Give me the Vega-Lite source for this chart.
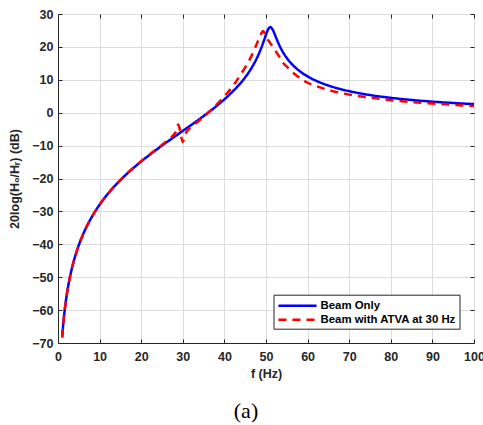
{
  "$schema": "https://vega.github.io/schema/vega-lite/v6.json",
  "width": 416,
  "height": 329,
  "autosize": "none",
  "padding": {"left": 58, "top": 14, "right": 9, "bottom": 82},
  "background": "white",
  "title": {"text": "(a)", "orient": "bottom", "font": "Liberation Serif", "fontSize": 22, "fontWeight": "normal", "color": "black", "offset": 21, "dx": -20},
  "config": {
    "view": {"stroke": "#262626", "strokeWidth": 1},
    "axis": {
      "labelFont": "Liberation Sans", "labelFontWeight": "bold", "labelFontSize": 12.5, "labelColor": "#262626",
      "titleFont": "Liberation Sans", "titleFontWeight": "bold", "titleFontSize": 12.5, "titleColor": "#262626",
      "domainColor": "#262626", "tickColor": "#262626", "gridColor": "#dcdcdc", "gridWidth": 1,
      "tickSize": -4, "labelPadding": 11, "labelFlush": false, "labelOverlap": false
    }
  },
  "data": {"values": [
    {"f": 1, "dB": -68.3, "series": "Beam Only"},
    {"f": 1.25, "dB": -64.42, "series": "Beam Only"},
    {"f": 1.5, "dB": -61.25, "series": "Beam Only"},
    {"f": 1.75, "dB": -58.57, "series": "Beam Only"},
    {"f": 2, "dB": -56.25, "series": "Beam Only"},
    {"f": 2.5, "dB": -52.36, "series": "Beam Only"},
    {"f": 3, "dB": -49.19, "series": "Beam Only"},
    {"f": 3.5, "dB": -46.5, "series": "Beam Only"},
    {"f": 4, "dB": -44.17, "series": "Beam Only"},
    {"f": 5, "dB": -40.26, "series": "Beam Only"},
    {"f": 6, "dB": -37.06, "series": "Beam Only"},
    {"f": 7, "dB": -34.33, "series": "Beam Only"},
    {"f": 8, "dB": -31.96, "series": "Beam Only"},
    {"f": 9, "dB": -29.86, "series": "Beam Only"},
    {"f": 10, "dB": -27.96, "series": "Beam Only"},
    {"f": 12, "dB": -24.64, "series": "Beam Only"},
    {"f": 14, "dB": -21.78, "series": "Beam Only"},
    {"f": 16, "dB": -19.24, "series": "Beam Only"},
    {"f": 18, "dB": -16.94, "series": "Beam Only"},
    {"f": 20, "dB": -14.81, "series": "Beam Only"},
    {"f": 22, "dB": -12.82, "series": "Beam Only"},
    {"f": 24, "dB": -10.92, "series": "Beam Only"},
    {"f": 26, "dB": -9.09, "series": "Beam Only"},
    {"f": 28, "dB": -7.3, "series": "Beam Only"},
    {"f": 30, "dB": -5.53, "series": "Beam Only"},
    {"f": 32, "dB": -3.75, "series": "Beam Only"},
    {"f": 34, "dB": -1.94, "series": "Beam Only"},
    {"f": 36, "dB": -0.06, "series": "Beam Only"},
    {"f": 38, "dB": 1.92, "series": "Beam Only"},
    {"f": 40, "dB": 4.07, "series": "Beam Only"},
    {"f": 42, "dB": 6.48, "series": "Beam Only"},
    {"f": 44, "dB": 9.16, "series": "Beam Only"},
    {"f": 45, "dB": 10.75, "series": "Beam Only"},
    {"f": 46, "dB": 12.55, "series": "Beam Only"},
    {"f": 47, "dB": 14.63, "series": "Beam Only"},
    {"f": 48, "dB": 17.11, "series": "Beam Only"},
    {"f": 49, "dB": 20.16, "series": "Beam Only"},
    {"f": 49.5, "dB": 21.91, "series": "Beam Only"},
    {"f": 50, "dB": 23.73, "series": "Beam Only"},
    {"f": 50.5, "dB": 25.31, "series": "Beam Only"},
    {"f": 51, "dB": 26.02, "series": "Beam Only"},
    {"f": 51.5, "dB": 25.49, "series": "Beam Only"},
    {"f": 52, "dB": 24.14, "series": "Beam Only"},
    {"f": 52.5, "dB": 22.57, "series": "Beam Only"},
    {"f": 53, "dB": 21.08, "series": "Beam Only"},
    {"f": 54, "dB": 18.57, "series": "Beam Only"},
    {"f": 55, "dB": 16.62, "series": "Beam Only"},
    {"f": 56, "dB": 15.06, "series": "Beam Only"},
    {"f": 58, "dB": 12.73, "series": "Beam Only"},
    {"f": 60, "dB": 11.03, "series": "Beam Only"},
    {"f": 62, "dB": 9.74, "series": "Beam Only"},
    {"f": 65, "dB": 8.26, "series": "Beam Only"},
    {"f": 68, "dB": 7.15, "series": "Beam Only"},
    {"f": 70, "dB": 6.55, "series": "Beam Only"},
    {"f": 75, "dB": 5.37, "series": "Beam Only"},
    {"f": 80, "dB": 4.52, "series": "Beam Only"},
    {"f": 85, "dB": 3.87, "series": "Beam Only"},
    {"f": 90, "dB": 3.36, "series": "Beam Only"},
    {"f": 95, "dB": 2.95, "series": "Beam Only"},
    {"f": 100, "dB": 2.61, "series": "Beam Only"},
    {"f": 1, "dB": -68.3, "series": "Beam with ATVA at 30 Hz"},
    {"f": 1.25, "dB": -64.42, "series": "Beam with ATVA at 30 Hz"},
    {"f": 1.5, "dB": -61.25, "series": "Beam with ATVA at 30 Hz"},
    {"f": 1.75, "dB": -58.57, "series": "Beam with ATVA at 30 Hz"},
    {"f": 2, "dB": -56.25, "series": "Beam with ATVA at 30 Hz"},
    {"f": 2.5, "dB": -52.36, "series": "Beam with ATVA at 30 Hz"},
    {"f": 3, "dB": -49.19, "series": "Beam with ATVA at 30 Hz"},
    {"f": 3.5, "dB": -46.5, "series": "Beam with ATVA at 30 Hz"},
    {"f": 4, "dB": -44.17, "series": "Beam with ATVA at 30 Hz"},
    {"f": 5, "dB": -40.26, "series": "Beam with ATVA at 30 Hz"},
    {"f": 6, "dB": -37.06, "series": "Beam with ATVA at 30 Hz"},
    {"f": 7, "dB": -34.33, "series": "Beam with ATVA at 30 Hz"},
    {"f": 8, "dB": -31.96, "series": "Beam with ATVA at 30 Hz"},
    {"f": 9, "dB": -29.86, "series": "Beam with ATVA at 30 Hz"},
    {"f": 10, "dB": -27.96, "series": "Beam with ATVA at 30 Hz"},
    {"f": 12, "dB": -24.64, "series": "Beam with ATVA at 30 Hz"},
    {"f": 14, "dB": -21.78, "series": "Beam with ATVA at 30 Hz"},
    {"f": 16, "dB": -19.2, "series": "Beam with ATVA at 30 Hz"},
    {"f": 18, "dB": -16.9, "series": "Beam with ATVA at 30 Hz"},
    {"f": 20, "dB": -14.75, "series": "Beam with ATVA at 30 Hz"},
    {"f": 22, "dB": -12.7, "series": "Beam with ATVA at 30 Hz"},
    {"f": 24, "dB": -10.75, "series": "Beam with ATVA at 30 Hz"},
    {"f": 26, "dB": -8.75, "series": "Beam with ATVA at 30 Hz"},
    {"f": 27, "dB": -7.7, "series": "Beam with ATVA at 30 Hz"},
    {"f": 28, "dB": -6.4, "series": "Beam with ATVA at 30 Hz"},
    {"f": 28.5, "dB": -5.3, "series": "Beam with ATVA at 30 Hz"},
    {"f": 28.85, "dB": -3.6, "series": "Beam with ATVA at 30 Hz"},
    {"f": 29.2, "dB": -4.6, "series": "Beam with ATVA at 30 Hz"},
    {"f": 29.6, "dB": -7.2, "series": "Beam with ATVA at 30 Hz"},
    {"f": 30, "dB": -8.9, "series": "Beam with ATVA at 30 Hz"},
    {"f": 30.4, "dB": -7.3, "series": "Beam with ATVA at 30 Hz"},
    {"f": 31, "dB": -5.6, "series": "Beam with ATVA at 30 Hz"},
    {"f": 32, "dB": -4.4, "series": "Beam with ATVA at 30 Hz"},
    {"f": 34, "dB": -2.3, "series": "Beam with ATVA at 30 Hz"},
    {"f": 36, "dB": -0.1, "series": "Beam with ATVA at 30 Hz"},
    {"f": 38, "dB": 2.3, "series": "Beam with ATVA at 30 Hz"},
    {"f": 40, "dB": 5.0, "series": "Beam with ATVA at 30 Hz"},
    {"f": 42, "dB": 8.0, "series": "Beam with ATVA at 30 Hz"},
    {"f": 44, "dB": 11.8, "series": "Beam with ATVA at 30 Hz"},
    {"f": 45, "dB": 13.8, "series": "Beam with ATVA at 30 Hz"},
    {"f": 46, "dB": 16.0, "series": "Beam with ATVA at 30 Hz"},
    {"f": 47, "dB": 18.6, "series": "Beam with ATVA at 30 Hz"},
    {"f": 48, "dB": 21.6, "series": "Beam with ATVA at 30 Hz"},
    {"f": 48.5, "dB": 23.0, "series": "Beam with ATVA at 30 Hz"},
    {"f": 48.8, "dB": 23.9, "series": "Beam with ATVA at 30 Hz"},
    {"f": 49.3, "dB": 24.8, "series": "Beam with ATVA at 30 Hz"},
    {"f": 49.8, "dB": 23.8, "series": "Beam with ATVA at 30 Hz"},
    {"f": 50.3, "dB": 22.5, "series": "Beam with ATVA at 30 Hz"},
    {"f": 51, "dB": 21.2, "series": "Beam with ATVA at 30 Hz"},
    {"f": 52, "dB": 19.3, "series": "Beam with ATVA at 30 Hz"},
    {"f": 53, "dB": 17.4, "series": "Beam with ATVA at 30 Hz"},
    {"f": 54, "dB": 15.3, "series": "Beam with ATVA at 30 Hz"},
    {"f": 55, "dB": 14.0, "series": "Beam with ATVA at 30 Hz"},
    {"f": 56, "dB": 12.7, "series": "Beam with ATVA at 30 Hz"},
    {"f": 58, "dB": 10.7, "series": "Beam with ATVA at 30 Hz"},
    {"f": 60, "dB": 9.1, "series": "Beam with ATVA at 30 Hz"},
    {"f": 62, "dB": 8.1, "series": "Beam with ATVA at 30 Hz"},
    {"f": 65, "dB": 6.9, "series": "Beam with ATVA at 30 Hz"},
    {"f": 68, "dB": 6.0, "series": "Beam with ATVA at 30 Hz"},
    {"f": 70, "dB": 5.5, "series": "Beam with ATVA at 30 Hz"},
    {"f": 75, "dB": 4.6, "series": "Beam with ATVA at 30 Hz"},
    {"f": 80, "dB": 3.8, "series": "Beam with ATVA at 30 Hz"},
    {"f": 85, "dB": 3.2, "series": "Beam with ATVA at 30 Hz"},
    {"f": 90, "dB": 2.8, "series": "Beam with ATVA at 30 Hz"},
    {"f": 95, "dB": 2.4, "series": "Beam with ATVA at 30 Hz"},
    {"f": 100, "dB": 2.0, "series": "Beam with ATVA at 30 Hz"}
  ]},
  "layer": [
    {
      "mark": {"type": "line", "strokeWidth": 2.5, "interpolate": "monotone", "clip": true},
      "encoding": {
        "x": {"field": "f", "type": "quantitative", "scale": {"domain": [0, 100], "nice": false},
              "axis": {"title": "f (Hz)", "values": [0,10,20,30,40,50,60,70,80,90,100], "grid": true, "titlePadding": 5}},
        "y": {"field": "dB", "type": "quantitative", "scale": {"domain": [-70, 30], "nice": false},
              "axis": {"title": "20log(H₀/Hᵣ) (dB)", "values": [-70,-60,-50,-40,-30,-20,-10,0,10,20,30], "grid": true, "labelPadding": 9, "titlePadding": 10}},
        "color": {"field": "series", "type": "nominal",
                  "scale": {"domain": ["Beam Only", "Beam with ATVA at 30 Hz"], "range": ["#0000ff", "#ff0000"]},
                  "legend": {"title": null, "orient": "none", "legendX": 215.5, "legendY": 280.7,
                             "strokeColor": "#262626", "fillColor": "white", "padding": 3, "rowPadding": 0,
                             "symbolType": "M-3,0H3", "symbolSize": 161, "symbolStrokeWidth": 2.5, "symbolOffset": 13,
                             "labelOffset": 15, "labelFont": "Liberation Sans", "labelFontWeight": "bold", "labelFontSize": 11.4,
                             "labelColor": "black", "labelLimit": 300}},
        "strokeDash": {"field": "series", "type": "nominal",
                       "scale": {"domain": ["Beam Only", "Beam with ATVA at 30 Hz"], "range": [[1, 0], [8, 6]]},
                       "legend": null}
      }
    },
    {
      "mark": {"type": "point", "opacity": 0},
      "encoding": {
        "x": {"field": "f", "type": "quantitative",
              "axis": {"orient": "top", "labels": false, "grid": false, "domain": false, "title": null, "values": [0,10,20,30,40,50,60,70,80,90,100]}},
        "y": {"field": "dB", "type": "quantitative",
              "axis": {"orient": "right", "labels": false, "grid": false, "domain": false, "title": null, "values": [-70,-60,-50,-40,-30,-20,-10,0,10,20,30]}}
      }
    }
  ],
  "resolve": {"axis": {"x": "independent", "y": "independent"}}
}
